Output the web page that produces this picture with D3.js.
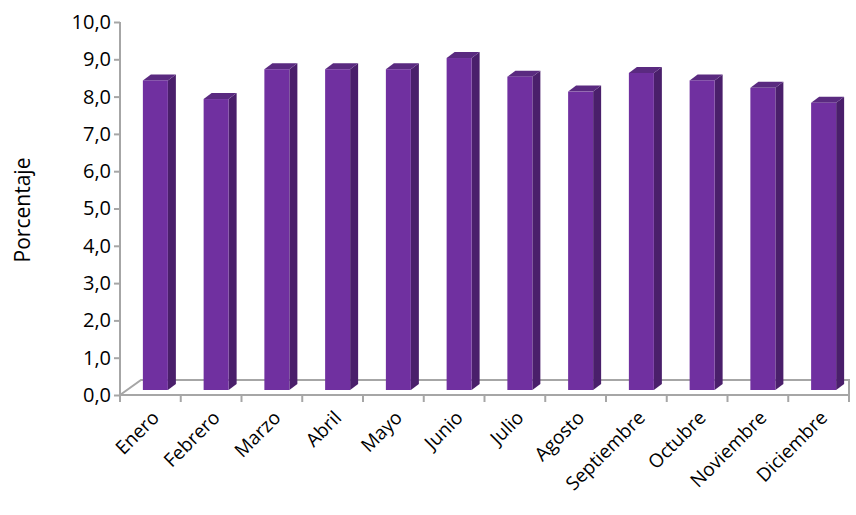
<!DOCTYPE html>
<html><head><meta charset="utf-8">
<script src="https://cdn.jsdelivr.net/npm/d3@7"></script>
<style>body{margin:0;background:#fff}text{font-family:"Open Sans",sans-serif;fill:#000}</style>
</head><body>
<svg id="chart" width="856" height="515"></svg>
<script>
const meses = ['Enero','Febrero','Marzo','Abril','Mayo','Junio','Julio','Agosto','Septiembre','Octubre','Noviembre','Diciembre']
const porcentajes = [8.3,7.8,8.6,8.6,8.6,8.9,8.4,8.0,8.5,8.3,8.1,7.7]
const yTicks = d3.range(0,11,1)

const x0 = 120, x1 = 849, yBase = 395, yTop = 22
const depthX = 21, depthY = 15   // profondeur du sol
const barDx = 8, barDy = 6        // profondeur des barres

const svg = d3.select('#chart')
const x = d3.scaleBand().domain(meses).range([x0, x1])
const y = d3.scaleLinear().domain([0,10]).range([yBase, yTop])

//Sol 3D
svg.append('path')
  .attr('d', `M${x0},${yBase}L${x0+depthX},${yBase-depthY}L${x1},${yBase-depthY}L${x1},${yBase}`)
  .attr('fill','none').attr('stroke','#a6a6a6').attr('stroke-width',2)
svg.append('line').attr('x1',x0).attr('x2',x1).attr('y1',yBase).attr('y2',yBase)
  .attr('stroke','#a6a6a6').attr('stroke-width',2)

//Axe Y
const yAxis = svg.append('g').attr('transform',`translate(${x0},0)`)
  .call(d3.axisLeft(y).tickValues(yTicks).tickSize(6).tickFormat(d => d3.format('.1f')(d).replace('.',',')))
yAxis.selectAll('path,line').attr('stroke','#a6a6a6').attr('stroke-width',2)
yAxis.select('.domain').attr('d',`M0,${yBase}V${yTop}`)
yAxis.selectAll('text').attr('font-size',20).attr('x',-9)

//Ticks X
svg.selectAll('line.xt').data(d3.range(13)).enter().append('line')
  .attr('x1', i => x0 + i*x.bandwidth()).attr('x2', i => x0 + i*x.bandwidth())
  .attr('y1', yBase).attr('y2', yBase+7).attr('stroke','#a6a6a6').attr('stroke-width',2)

//Barres
const bw = 25, off = 10, shiftY = 5
const g = svg.selectAll('g.bar').data(meses).enter().append('g')
g.each(function(m, i){
  const gx = x(m) + (x.bandwidth()-bw)/2 + off/2
  const yb = yBase - shiftY
  const yt = y(porcentajes[i]) - shiftY
  const s = d3.select(this)
  s.append('path').attr('d',`M${gx+bw},${yb}L${gx+bw+barDx},${yb-barDy}L${gx+bw+barDx},${yt-barDy}L${gx+bw},${yt}Z`).attr('fill','#4a1f6b')
  s.append('path').attr('d',`M${gx},${yt}L${gx+barDx},${yt-barDy}L${gx+bw+barDx},${yt-barDy}L${gx+bw},${yt}Z`).attr('fill','#5a2a80')
  s.append('rect').attr('x',gx).attr('y',yt).attr('width',bw).attr('height',yb-yt).attr('fill','#7030a0')
})

//Etiquettes X
svg.selectAll('text.xl').data(meses).enter().append('text')
  .attr('font-size',19).attr('text-anchor','end')
  .attr('transform', m => `translate(${x(m)+x.bandwidth()/2+10},${yBase+24}) rotate(-45)`)
  .text(m => m)

svg.append('text').attr('font-size',21).attr('text-anchor','middle')
  .attr('transform','translate(30,210) rotate(-90)').text('Porcentaje')
</script>
</body></html>
